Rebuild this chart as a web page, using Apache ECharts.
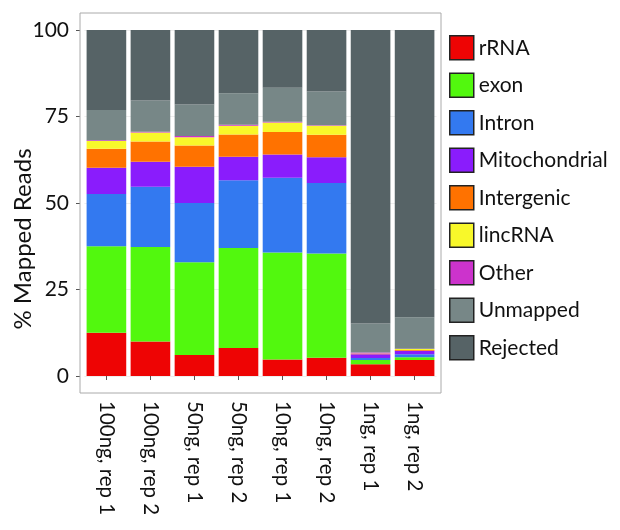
<!DOCTYPE html>
<html>
<head>
<meta charset="utf-8">
<script src="https://cdn.jsdelivr.net/npm/echarts@6/dist/echarts.min.js"></script>
<style>html,body{margin:0;padding:0;background:#fff}#c{width:620px;height:530px}</style>
</head>
<body>
<div id="c"></div>
<script>
var categories = ['100ng, rep 1','100ng, rep 2','50ng, rep 1','50ng, rep 2','10ng, rep 1','10ng, rep 2','1ng, rep 1','1ng, rep 2'];
var rRNA          = [12.5, 10.0, 6.1, 8.1, 4.8, 5.3, 3.4, 4.6];
var exon          = [25.0, 27.3, 26.8, 28.9, 30.9, 30.1, 1.2, 0.8];
var intron        = [15.1, 17.4, 17.1, 19.6, 21.6, 20.4, 0.6, 0.9];
var mitochondrial = [7.6, 7.2, 10.5, 6.8, 6.7, 7.4, 1.1, 1.0];
var intergenic    = [5.5, 5.9, 6.1, 6.4, 6.5, 6.5, 0.1, 0.2];
var lincRNA       = [2.2, 2.6, 2.4, 2.5, 2.8, 2.6, 0.1, 0.3];
var other         = [0.2, 0.2, 0.4, 0.3, 0.2, 0.2, 0.3, 0.1];
var unmapped      = [8.8, 9.0, 9.1, 9.1, 9.8, 9.7, 8.4, 9.1];
var rejected      = [23.1, 20.4, 21.5, 18.3, 16.7, 17.8, 84.8, 83.0];
var yTicks = [0, 25, 50, 75, 100];

var seriesNames = ['rRNA','exon','Intron','Mitochondrial','Intergenic','lincRNA','Other','Unmapped','Rejected'];
var seriesData = [rRNA, exon, intron, mitochondrial, intergenic, lincRNA, other, unmapped, rejected];
var colors = ['#EE0404','#52F80E','#3379F0','#8A1CFC','#FF7200','#F8F82A','#CC33CC','#778787','#566366'];

var FONT = 'Lato, "Liberation Sans", sans-serif';
var chart = echarts.init(document.getElementById('c'), null, {renderer:'canvas'});
chart.setOption({
  backgroundColor: '#ffffff',
  animation: false,
  color: colors,
  grid: {left: 84.4, right: 183.4, top: 30, bottom: 154, containLabel: false},
  legend: {
    orient: 'vertical', left: 444, top: 30,
    icon: 'rect', itemWidth: 24, itemHeight: 24, itemGap: 12,
    itemStyle: {borderColor: '#222', borderWidth: 1.5},
    textStyle: {fontFamily: FONT, fontSize: 21, color: '#111'},
    data: seriesNames
  },
  xAxis: {
    type: 'category', data: categories, offset: 17,
    axisLine: {show: false},
    axisTick: {show: true, alignWithLabel: true, length: 4, lineStyle: {color: '#555'}},
    axisLabel: {rotate: -90, margin: 8, fontFamily: FONT, fontSize: 20.5, color: '#111', interval: 0},
    splitLine: {show: false}
  },
  yAxis: {
    type: 'value', min: 0, max: 100, interval: 25, offset: 4.4,
    axisLine: {show: false},
    axisTick: {show: true, length: 4, lineStyle: {color: '#555'}},
    axisLabel: {margin: 11, fontFamily: FONT, fontSize: 21, color: '#111',
      formatter: function (v) { return yTicks.indexOf(v) >= 0 ? String(v) : ''; }},
    splitLine: {show: true, lineStyle: {color: '#EEEEEE', width: 1}}
  },
  graphic: [
    {type: 'rect', shape: {x: 80, y: 13, width: 361, height: 380}, style: {fill: 'none', stroke: '#AAAAAA', lineWidth: 1}, z: 100},
    {type: 'text', x: 23, y: 239, rotation: Math.PI / 2,
      style: {text: '% Mapped Reads', fontFamily: FONT, fontSize: 24, fill: '#111', align: 'center', verticalAlign: 'middle'}}
  ],
  series: seriesNames.map(function (n, i) {
    return {name: n, type: 'bar', stack: 'total', data: seriesData[i], barCategoryGap: '10%',
      itemStyle: {color: colors[i]}};
  })
});
</script>
</body>
</html>
